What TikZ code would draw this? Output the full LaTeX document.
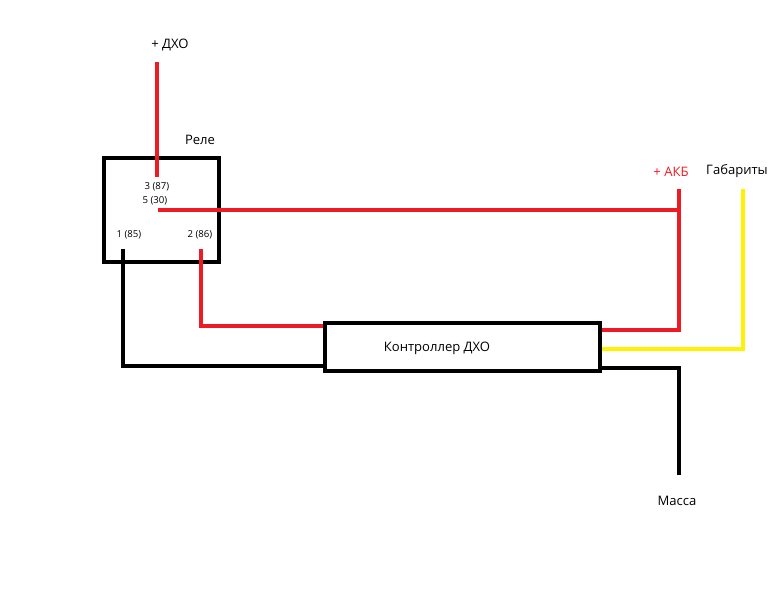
\documentclass[tikz,border=0pt]{standalone}
\usepackage{fontspec}
\setmainfont{Open Sans}
\usepackage{tikz}
\usetikzlibrary{calc}
\definecolor{wirered}{RGB}{237,28,36}
\definecolor{wireyellow}{RGB}{255,242,0}
\tikzstyle{wire}=[line width=3.2pt]
\tikzstyle{redwire}=[wire, wirered]
\tikzstyle{yellowwire}=[wire, wireyellow]
\tikzstyle{blackwire}=[wire, black]
\tikzstyle{box}=[draw, line width=3.2pt, inner sep=0pt]
\tikzstyle{lbl}=[inner sep=0pt, font=\fontsize{9.8}{11}\selectfont]
\tikzstyle{pin}=[inner sep=0pt, font=\fontsize{7.2}{8}\selectfont]

\begin{document}
\begin{tikzpicture}[x=0.75pt, y=-0.75pt]
\useasboundingbox (0,0) rectangle (768,614);
% relay and controller
\node[box, minimum width=115*0.75pt, minimum height=104*0.75pt] (rele) at (161.5,210) {};
\node[box, minimum width=275*0.75pt, minimum height=48*0.75pt] (ctrl) at (462.5,347) {};
\node[lbl] (ctrltext) at (437,348) {Контроллер ДХО};
\node[lbl] (reletext) at (200,140) {Реле};
\node[pin] (p87) at (157,187) {3 (87)};
\node[pin] (p30) at (155,201) {5 (30)};
\node[pin] (p85) at (129,235) {1 (85)};
\node[pin] (p86) at (200,235) {2 (86)};
% labels of the free ends
\node[lbl] (dxo) at (170,45) {+ ДХО};
\node[lbl, text=wirered] (akb) at (671,172) {+ АКБ};
\node[lbl] (gab) at (737,171) {Габариты};
\node[lbl] (massa) at (677,501) {Масса};
% wire ends
\coordinate (dxo1) at (157,62);
\coordinate (dxo2) at (157,177);
\coordinate (w30) at (158,210);
\coordinate (akb1) at (679,189);
\coordinate (akb2) at (679,330);
\coordinate (gab1) at (743,189);
\coordinate (gab2) at (743,349);
\coordinate (w85) at (123,249);
\coordinate (w86) at (201,249);
\coordinate (c86) at (201,326);
\coordinate (c85) at (123,366);
\coordinate (m1) at (679,475);
\draw[redwire] (dxo1) -- (dxo2);
\draw[redwire] (w30) -- (w30 -| akb1);
\draw[redwire] (akb1) -- (akb2) -- (akb2 -| ctrl.east);
\draw[yellowwire] (gab1) -- (gab2) -- (gab2 -| ctrl.east);
\draw[redwire] (w86) -- (c86) -- (c86 -| ctrl.west);
\draw[blackwire] (w85) -- (c85) -- (c85 -| ctrl.west);
\draw[blackwire] ($(ctrl.east)+(0,21)$) -| (m1);
\end{tikzpicture}
\end{document}
